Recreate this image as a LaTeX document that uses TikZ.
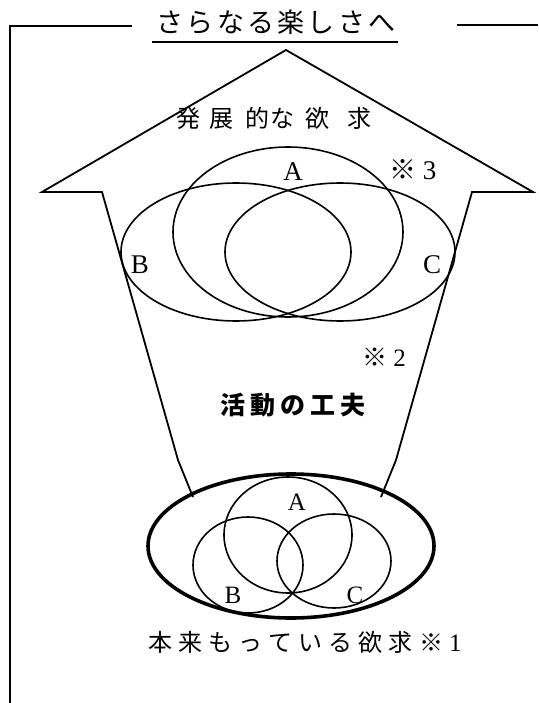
\documentclass[tikz,border=0pt]{standalone}
\usepackage{fontspec}
\setmainfont{Liberation Serif}
\newfontfamily\cjk{Noto Sans CJK JP}
\begin{document}
\begin{tikzpicture}[x=1pt,y=-1pt,line join=miter,
  ln/.style={line width=1.8pt},
  venn/.style={line width=1.6pt},
  outer/.style={line width=3.6pt},
  lbl/.style={inner sep=0pt,font=\fontsize{27}{27}\selectfont},
  slbl/.style={inner sep=0pt,font=\fontsize{25}{25}\selectfont},
  jtxt/.style={inner sep=0pt}]
\useasboundingbox (0,0) rectangle (538,703);
% frame
\coordinate (f1) at (132,26);
\coordinate (f2) at (10,26);
\coordinate (f3) at (10,703);
\coordinate (f4) at (457,25);
\coordinate (f5) at (538,25);
\draw[ln] (f1) -- (f2) -- (f3);
\draw[ln] (f4) -- (f5);
% title
\node[jtxt] (title) at (276,22) {\cjk\fontsize{27}{27}\selectfont\addfontfeature{LetterSpace=12}さらなる楽しさへ};
\coordinate (u1) at (152,42);
\coordinate (u2) at (398,42);
\draw[ln] (u1) -- (u2);
% arrow outline
\coordinate (a1) at (193,497);
\coordinate (a2) at (178,460);
\coordinate (a3) at (102,192);
\coordinate (a4) at (42,192);
\coordinate (a5) at (286,50);
\coordinate (a6) at (533,192);
\coordinate (a7) at (472,192);
\coordinate (a8) at (396,460);
\coordinate (a9) at (381,497);
\draw[ln] (a1) -- (a2) -- (a3) -- (a4) -- (a5) -- (a6) -- (a7) -- (a8) -- (a9);
% upper text
\node[jtxt] (dev) at (274,118) {\cjk\fontsize{24}{24}\selectfont 発\hspace{9pt}展\hspace{12pt}的\hspace{2pt}な\hspace{11pt}欲\hspace{18pt}求};
% upper venn
\draw[venn] (288,232) ellipse [x radius=115pt, y radius=85pt];
\draw[venn] (236,252) ellipse [x radius=115pt, y radius=69pt];
\draw[venn] (340,252) ellipse [x radius=115pt, y radius=69pt];
\node[lbl] (uA) at (293,172) {A};
\node[lbl] (uB) at (140,265) {B};
\node[lbl] (uC) at (432,265) {C};
\node[lbl] (n3) at (413,170) {{\cjk\fontsize{27}{27}\selectfont ※}\hspace{6pt}3};
% middle
\node[slbl] (n2) at (384,357) {{\cjk\fontsize{25}{25}\selectfont ※}\hspace{6pt}2};
\node[jtxt] (act) at (293,405) {\cjk\bfseries\fontsize{25}{25}\selectfont\addfontfeature{LetterSpace=20}活動の工夫};
% lower venn
\draw[outer] (291,546) ellipse [x radius=143pt, y radius=72pt];
\draw[venn] (288,535) ellipse [x radius=64pt, y radius=58pt];
\draw[venn] (248,565) ellipse [x radius=55pt, y radius=48pt];
\draw[venn] (334,561) ellipse [x radius=57pt, y radius=47pt];
\node[slbl] (lA) at (297,502) {A};
\node[slbl] (lB) at (233,595) {B};
\node[slbl] (lC) at (355,595) {C};
\node[jtxt] (orig) at (305,642) {{\cjk\fontsize{24}{24}\selectfont\addfontfeature{LetterSpace=26}本来もっている欲求※}\hspace{6pt}\fontsize{25}{25}\selectfont 1};
\end{tikzpicture}
\end{document}
